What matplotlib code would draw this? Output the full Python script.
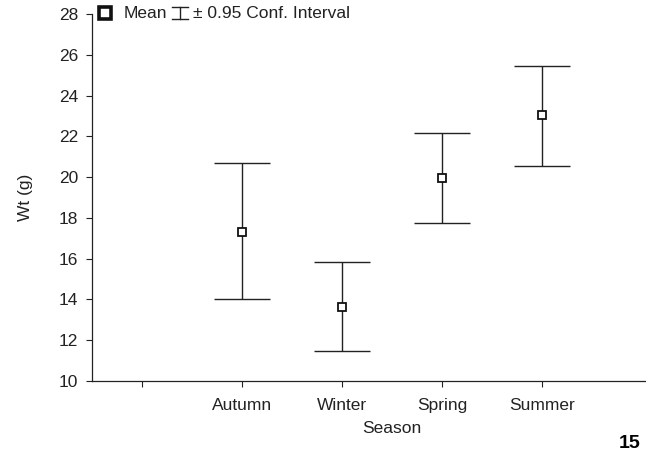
import matplotlib.pyplot as plt
from matplotlib.lines import Line2D

plt.rcParams['font.family'] = ['Liberation Sans', 'DejaVu Sans']

seasons = ['Autumn', 'Winter', 'Spring', 'Summer']
means = [17.33, 13.62, 19.97, 23.05]
upper = [20.68, 15.82, 22.17, 25.45]
lower = [14.0, 11.46, 17.76, 20.56]

pos = [1, 2, 3, 4]
err_lo = [m - l for m, l in zip(means, lower)]
err_hi = [u - m for u, m in zip(upper, means)]

W, H = 646, 454
fig = plt.figure(figsize=(W / 100, H / 100), dpi=100)
ax = fig.add_axes([92 / W, (H - 381) / H, 1 - 92 / W, (381 - 14) / H])

ink = '#222222'
ax.errorbar(pos, means, yerr=[err_lo, err_hi], fmt='none', ecolor=ink,
            elinewidth=1.0, capsize=20, capthick=1.0)
ax.plot(pos, means, 's', ms=5.2, mfc='white', mec='#111111', mew=1.3)

ax.set_xlim(-0.5, 5.04)
ax.set_ylim(10, 28)
ax.set_yticks(range(10, 29, 2))
ax.set_xticks([0] + pos)
ax.set_xticklabels([''] + seasons)
ax.tick_params(direction='out', length=4, width=0.8, labelsize=12.5, colors=ink)
ax.tick_params(axis='x', pad=8)
ax.tick_params(axis='y', pad=6)
for s in ['top', 'right']:
    ax.spines[s].set_visible(False)
for s in ['left', 'bottom']:
    ax.spines[s].set_linewidth(0.9)
    ax.spines[s].set_color(ink)

ax.set_xlabel('Season', fontsize=12.5, color=ink)
ax.xaxis.set_label_coords((392 - 92) / 554, (381 - 421) / 367)
ax.set_ylabel('Wt (g)', fontsize=12.5, color=ink)
ax.yaxis.set_label_coords((33 - 92) / 554, 0.5)

# legend drawn by hand (marker, CI symbol, texts) in figure pixels
def fx(px):
    return px / W

def fy(py):
    return 1 - py / H

fig.add_artist(Line2D([fx(105)], [fy(13)], ls='none', marker='s', ms=8.5,
                      mfc='white', mec='#111111', mew=2.6))
fig.text(fx(124), fy(13), 'Mean', fontsize=12.5, color=ink, va='center', ha='left')
fig.add_artist(Line2D([fx(180), fx(180)], [fy(7), fy(19)], color=ink, lw=1.0))
fig.add_artist(Line2D([fx(172), fx(188)], [fy(7), fy(7)], color=ink, lw=1.0))
fig.add_artist(Line2D([fx(172), fx(188)], [fy(19), fy(19)], color=ink, lw=1.0))
fig.text(fx(193), fy(13), '\u00b1 0.95 Conf. Interval', fontsize=12.5, color=ink,
         va='center', ha='left')

fig.text(fx(640), fy(452), '15', fontsize=14, fontweight='bold', ha='right', va='bottom')

fig.savefig('out.png', dpi=100)
